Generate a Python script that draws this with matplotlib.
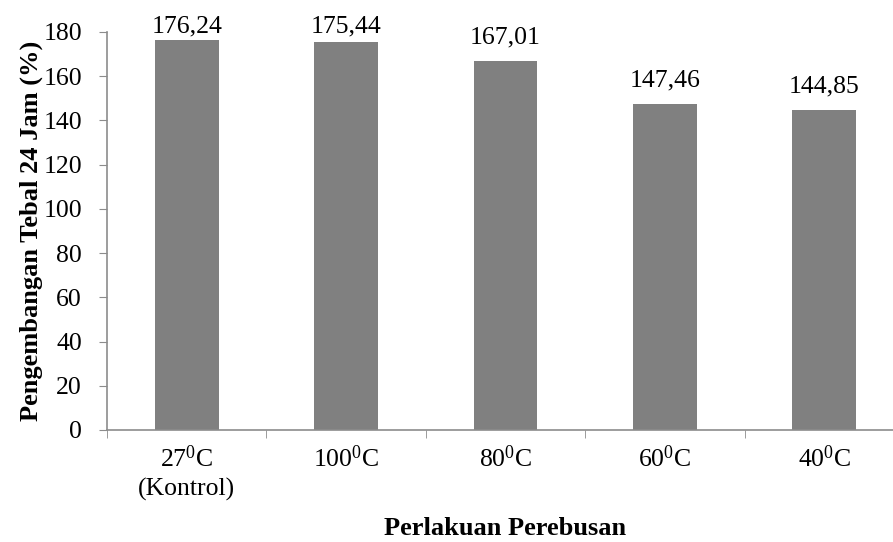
import matplotlib
matplotlib.use("Agg")
import matplotlib.pyplot as plt
import numpy as np

# ── Data ─────────────────────────────────────────────────────────────────────
categories = ["27$^0$C\n(Kontrol)", "100$^0$C", "80$^0$C", "60$^0$C", "40$^0$C"]
values = [176.24, 175.44, 167.01, 147.46, 144.85]
value_labels = ["176,24", "175,44", "167,01", "147,46", "144,85"]
yticks = [0, 20, 40, 60, 80, 100, 120, 140, 160, 180]

# ── Style ────────────────────────────────────────────────────────────────────
plt.rcParams.update({
    "font.family": "Liberation Serif",
    "font.size": 18.5,
    "mathtext.fontset": "custom",
    "mathtext.rm": "Liberation Serif",
    "mathtext.it": "Liberation Serif",
})
AX_GREY = "#8c8c8c"

fig = plt.figure(figsize=(8.93, 5.42), dpi=100)
ax = fig.add_axes([107 / 893, 112 / 542, 797 / 893, 398 / 542])

x = np.arange(len(categories))
ax.bar(x, values, width=0.4, color="#808080", zorder=2)

# value labels: sit above the bar, but kept below the top of the plot area
for xi, v, lab in zip(x, values, value_labels):
    ax.text(xi, min(v + 7.7, 180), lab, ha="center", va="baseline",
            fontsize=18.5)

ax.set_xlim(-0.5, len(categories) - 0.5)
ax.set_ylim(0, 180)
ax.set_yticks(yticks)

# x ticks at category boundaries, labels centred without marks
ax.set_xticks(x)
ax.set_xticklabels(categories, linespacing=1.35)
ax.set_xticks(np.arange(-0.5, len(categories)), minor=True)
ax.tick_params(axis="x", which="major", length=0, pad=11)
ax.tick_params(axis="x", which="minor", length=6, color=AX_GREY, direction="out")
ax.tick_params(axis="y", length=6, color=AX_GREY, direction="out", pad=12)

for s in ["top", "right"]:
    ax.spines[s].set_visible(False)
for s in ["left", "bottom"]:
    ax.spines[s].set_color(AX_GREY)
    ax.spines[s].set_linewidth(1.2)

ax.set_ylabel("Pengembangan Tebal 24 Jam (%)", fontweight="bold", fontsize=19)
ax.yaxis.set_label_coords(-0.080, 0.5)
ax.set_xlabel("Perlakuan Perebusan", fontweight="bold", fontsize=19)
ax.xaxis.set_label_coords(0.5, -0.218)

fig.savefig("out.png", dpi=100)
